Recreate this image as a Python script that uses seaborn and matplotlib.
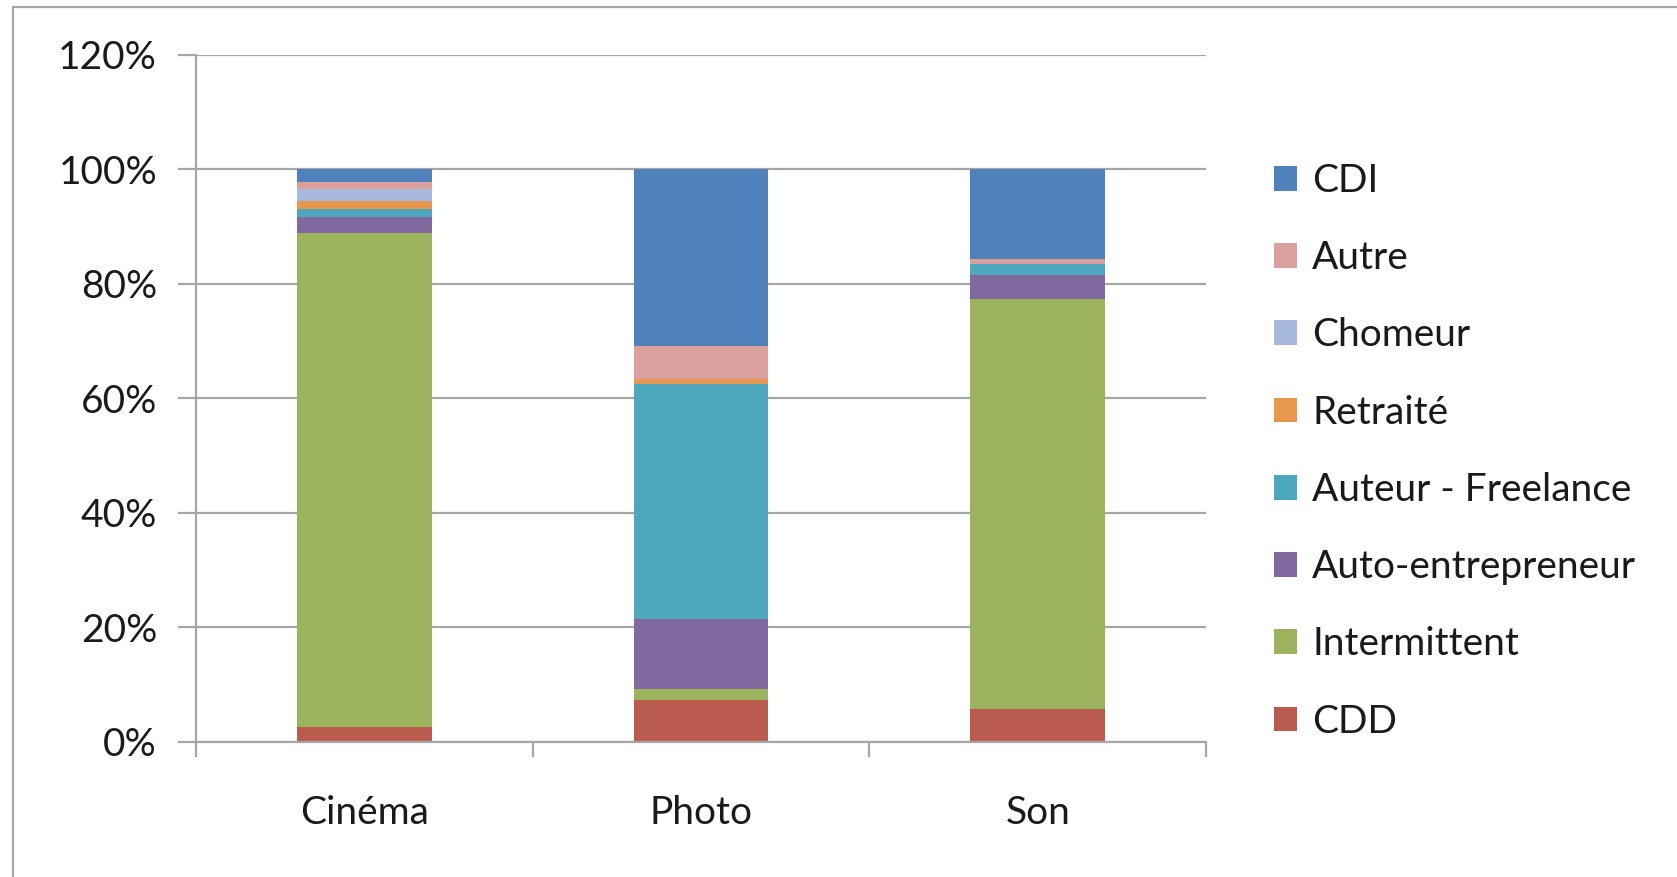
import numpy as np
import pandas as pd
import seaborn as sns
from matplotlib import pyplot as plt
from matplotlib.patches import Patch, Rectangle
from matplotlib.ticker import PercentFormatter, FixedLocator

# Données (en %)
categories = ['Cinéma', 'Photo', 'Son']
statuts = ['CDI', 'Autre', 'Chomeur', 'Retraité', 'Auteur - Freelance',
           'Auto-entrepreneur', 'Intermittent', 'CDD']
cdi = [2.2, 30.9, 15.7]
autre = [1.3, 5.8, 0.9]
chomeur = [2.0, 0.0, 0.0]
retraite = [1.5, 0.8, 0.0]
auteur = [1.3, 41.0, 1.9]
auto_entrepreneur = [2.9, 12.2, 4.1]
intermittent = [86.2, 2.0, 71.6]
cdd = [2.6, 7.3, 5.8]

couleurs = ['#4F81BD', '#D9A09E', '#A7B9DF', '#E8974E', '#4FA6BF',
            '#8169A0', '#9AB35C', '#BB5A4F']

df = pd.DataFrame([cdi, autre, chomeur, retraite, auteur, auto_entrepreneur,
                   intermittent, cdd], index=statuts, columns=categories)

sns.set_style("white")
plt.rcParams['font.family'] = ['Lato', 'DejaVu Sans']
texte = '#1a1a1a'
gris = '#A6A6A6'
taille = 28

fig = plt.figure(figsize=(16.77, 8.77), dpi=100)
ax = fig.add_axes([196/1677, 1-742/877, 1010/1677, (742-54.5)/877])

# Empilement : on dessine les cumuls du haut vers le bas
cumul = df[::-1].cumsum()[::-1]
for statut, col in zip(statuts, couleurs):
    sns.barplot(x=categories, y=cumul.loc[statut].values, color=col, width=0.4,
                saturation=1, linewidth=0, ax=ax)

ax.set_xlim(-0.5, 2.5)
ax.set_ylim(0, 120)
ax.set_yticks(np.arange(0, 121, 20))
ax.yaxis.set_major_formatter(PercentFormatter(xmax=100, decimals=0))
ax.yaxis.grid(True, color=gris, linewidth=1.6)
ax.set_axisbelow(True)
for s in ['top', 'right']:
    ax.spines[s].set_visible(False)
for s in ['left', 'bottom']:
    ax.spines[s].set_color(gris)
    ax.spines[s].set_linewidth(1.6)

ax.tick_params(axis='y', left=True, length=13, width=1.6, color=gris,
               labelsize=taille, labelcolor=texte, pad=15)
ax.tick_params(axis='x', which='major', length=0, labelsize=taille,
               labelcolor=texte, pad=38)
ax.xaxis.set_minor_locator(FixedLocator([-0.5, 0.5, 1.5, 2.5]))
ax.tick_params(axis='x', which='minor', bottom=True, length=11, width=1.6,
               color=gris)
ax.set_xlabel('')
ax.set_ylabel('')

# Légende
handles = [Patch(facecolor=c, edgecolor='none') for c in couleurs]
fig.legend(handles, statuts, loc='upper left', bbox_to_anchor=(1239/1677, 1-128/877),
           frameon=False, fontsize=taille, handlelength=0.6, handleheight=0.6,
           handletextpad=0.38, labelspacing=1.06, labelcolor=texte)

# Cadre du graphique
fig.patches.append(Rectangle((13/1677, -0.1), 2, (877-7)/877 + 0.1,
                             transform=fig.transFigure, fill=False,
                             edgecolor=gris, linewidth=1.6))

fig.savefig('out.png', dpi=100)
